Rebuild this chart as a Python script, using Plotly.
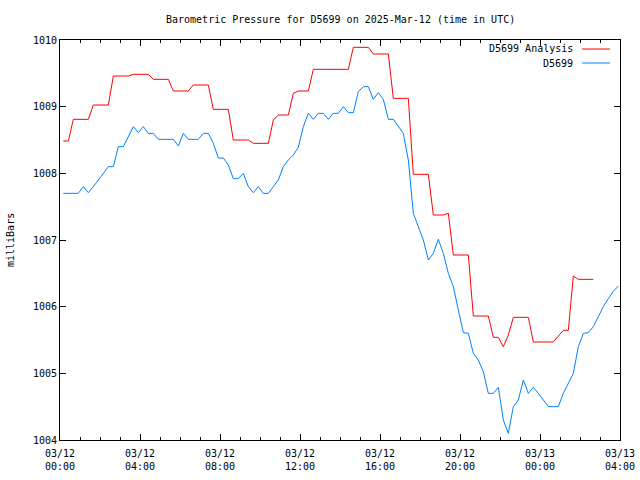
import pandas as pd
import plotly.graph_objects as go

# 15-minute sample times starting 2025-03-12 00:10 UTC
times = pd.date_range("2025-03-12 00:10", periods=112, freq="15min")

station = [
    1007.70, 1007.70, 1007.70, 1007.70, 1007.80, 1007.71, 1007.80, 1007.90, 1008.00, 1008.10,
    1008.10, 1008.40, 1008.40, 1008.55, 1008.70, 1008.61, 1008.70, 1008.60, 1008.60, 1008.51,
    1008.51, 1008.51, 1008.51, 1008.41, 1008.60, 1008.51, 1008.51, 1008.51, 1008.60, 1008.60,
    1008.45, 1008.23, 1008.23, 1008.125, 1007.92, 1007.92, 1008.00, 1007.80, 1007.71, 1007.80,
    1007.70, 1007.70, 1007.80, 1007.90, 1008.10, 1008.20, 1008.275, 1008.39, 1008.70, 1008.90,
    1008.81, 1008.90, 1008.90, 1008.81, 1008.90, 1008.90, 1009.00, 1008.91, 1008.91, 1009.225,
    1009.30, 1009.30, 1009.11, 1009.21, 1009.11, 1008.81, 1008.81, 1008.71, 1008.60, 1008.20,
    1007.40, 1007.20, 1007.00, 1006.70, 1006.80, 1007.01, 1006.80, 1006.50, 1006.30, 1005.95,
    1005.61, 1005.60, 1005.30, 1005.20, 1005.025, 1004.70, 1004.70, 1004.79, 1004.30, 1004.10,
    1004.50, 1004.60, 1004.90, 1004.70, 1004.79, 1004.70, 1004.60, 1004.50, 1004.50, 1004.50,
    1004.70, 1004.85, 1005.00, 1005.40, 1005.60, 1005.61, 1005.70, 1005.85, 1006.00, 1006.12,
    1006.23, 1006.31,
]

analysis = [
    1008.485, 1008.485, 1008.81, 1008.81, 1008.81, 1008.81, 1009.025, 1009.025, 1009.025, 1009.025,
    1009.46, 1009.46, 1009.46, 1009.46, 1009.485, 1009.485, 1009.485, 1009.485, 1009.41, 1009.41,
    1009.41, 1009.41, 1009.235, 1009.235, 1009.235, 1009.235, 1009.325, 1009.325, 1009.325, 1009.325,
    1008.96, 1008.96, 1008.96, 1008.96, 1008.50, 1008.50, 1008.50, 1008.50, 1008.45, 1008.45,
    1008.45, 1008.45, 1008.80, 1008.875, 1008.875, 1008.875, 1009.20, 1009.235, 1009.235, 1009.235,
    1009.56, 1009.56, 1009.56, 1009.56, 1009.56, 1009.56, 1009.56, 1009.56, 1009.89, 1009.89,
    1009.89, 1009.89, 1009.79, 1009.79, 1009.79, 1009.79, 1009.125, 1009.125, 1009.125, 1009.125,
    1007.985, 1007.985, 1007.985, 1007.985, 1007.375, 1007.375, 1007.375, 1007.40, 1006.775, 1006.775,
    1006.775, 1006.775, 1005.86, 1005.86, 1005.86, 1005.86, 1005.54, 1005.54, 1005.40, 1005.575,
    1005.84, 1005.84, 1005.84, 1005.84, 1005.47, 1005.47, 1005.47, 1005.47, 1005.47, 1005.56,
    1005.645, 1005.645, 1006.46, 1006.41, 1006.41, 1006.41, 1006.41,
]

series_names = ["D5699 Analysis", "D5699"]
series_colors = ["#ff0000", "#0080ff"]
title_text = "Barometric Pressure for D5699 on 2025-Mar-12 (time in UTC)"
y_label = "milliBars"
x_range = ["2025-03-12 00:00", "2025-03-13 04:00"]
y_range = [1004, 1010]

FONT = "DejaVu Sans Mono"

fig = go.Figure()
fig.add_trace(go.Scatter(x=times[:len(analysis)], y=analysis, mode="lines",
                         line=dict(color=series_colors[0], width=1), name=series_names[0]))
fig.add_trace(go.Scatter(x=times[:len(station)], y=station, mode="lines",
                         line=dict(color=series_colors[1], width=1), name=series_names[1]))

fig.update_layout(
    width=640, height=480,
    margin=dict(l=60, r=20, t=40, b=40, autoexpand=False),
    paper_bgcolor="white", plot_bgcolor="white",
    showlegend=False,
    font=dict(family=FONT, size=10, color="black"),
    xaxis=dict(
        range=x_range, type="date", automargin=False,
        dtick=4 * 3600 * 1000, tick0="2025-03-12 00:00",
        tickformat="%m/%d<br>%H:%M",
        ticks="inside", ticklen=6, tickcolor="black", tickwidth=1,
        ticklabelstandoff=4,
        minor=dict(dtick=3600 * 1000, ticks="inside", ticklen=3, tickcolor="black"),
        showline=True, linecolor="black", linewidth=1, mirror="ticks",
        showgrid=False, zeroline=False,
        tickfont=dict(family=FONT, size=10),
    ),
    yaxis=dict(
        range=y_range, dtick=1, automargin=False,
        ticks="inside", ticklen=6, tickcolor="black", tickwidth=1,
        showline=True, linecolor="black", linewidth=1, mirror="ticks",
        showgrid=False, zeroline=False,
        tickfont=dict(family=FONT, size=10),
    ),
)

fig.add_annotation(text=title_text, xref="paper", yref="paper",
                   x=0.5, y=1 + 21 / 400, xanchor="center", yanchor="middle",
                   showarrow=False, font=dict(family=FONT, size=10))
fig.add_annotation(text=y_label, xref="paper", yref="paper",
                   x=-50 / 560, y=0.5, xanchor="center", yanchor="middle",
                   textangle=-90, showarrow=False, font=dict(family=FONT, size=10))

# gnuplot-style legend: text to the left of the line sample
for i, (nm, col) in enumerate(zip(series_names, series_colors)):
    ypx = 49 + 14 * i
    yp = 1 - (ypx - 40) / 400
    fig.add_annotation(text=nm, xref="paper", yref="paper",
                       x=(575 - 60) / 560, y=yp, xanchor="right", yanchor="middle",
                       showarrow=False, font=dict(family=FONT, size=10))
    fig.add_shape(type="line", xref="paper", yref="paper",
                  x0=(582 - 60) / 560, x1=(610 - 60) / 560, y0=yp, y1=yp,
                  line=dict(color=col, width=1))

fig.write_html("out.html")
